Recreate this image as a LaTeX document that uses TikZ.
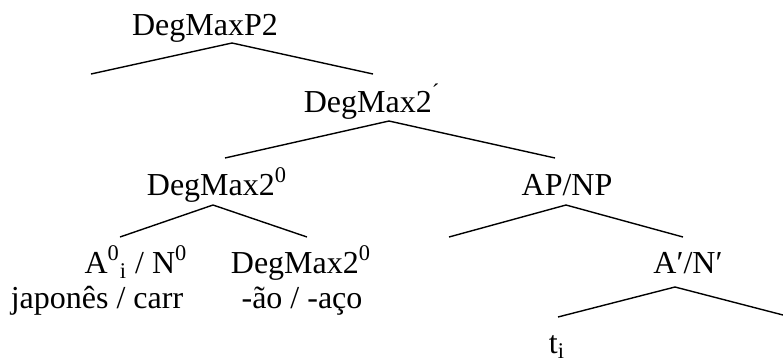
\documentclass[tikz,border=0pt]{standalone}
\usepackage{fontspec}
\setmainfont{Liberation Serif}
\usepackage{tikz}

\begin{document}
\begin{tikzpicture}[x=0.5pt, y=-0.5pt, line width=0.7pt]
        \useasboundingbox (0,0) rectangle (783,360);
        \tikzstyle{every node} = [inner sep=0pt, anchor=base, font=\fontsize{16}{19}\selectfont]
        % labels
        \node (p2)   at (205, 35)  {DegMaxP2};
        \node (bar)  at (372,112)  {DegMax2\textsuperscript{´}};
        \node (d0)   at (217,195)  {DegMax2\textsuperscript{0}};
        \node (ap)   at (567,195)  {AP/NP};
        \node (a0)   at (136,273)  {A\textsuperscript{0}\textsubscript{i} / N\textsuperscript{0}};
        \node (jap)  at ( 97,308)  {japonês / carr};
        \node (d0b)  at (301,273)  {DegMax2\textsuperscript{0}};
        \node (suf)  at (302,308)  {-ão / -aço};
        \node (abar) at (688,273)  {A′/N′};
        \node (t)    at (557,353)  {t\textsubscript{i}};
        % branch points
        \coordinate (p2top)  at (232, 43);
        \coordinate (p2l)    at ( 91, 74);
        \coordinate (p2r)    at (373, 74);
        \coordinate (bartop) at (389,121);
        \coordinate (barl)   at (225,158);
        \coordinate (barr)   at (555,158);
        \coordinate (d0top)  at (213,205);
        \coordinate (d0l)    at (120,237);
        \coordinate (d0r)    at (307,237);
        \coordinate (aptop)  at (566,205);
        \coordinate (apl)    at (449,237);
        \coordinate (apr)    at (683,237);
        \coordinate (abtop)  at (675,287);
        \coordinate (abl)    at (558,317);
        \coordinate (abr)    at (783,315);
        \foreach \from/\to in {p2top/p2l, p2top/p2r, bartop/barl, bartop/barr,
                               d0top/d0l, d0top/d0r, aptop/apl, aptop/apr,
                               abtop/abl, abtop/abr}
            \draw (\from) -- (\to);
    \end{tikzpicture}
\end{document}
